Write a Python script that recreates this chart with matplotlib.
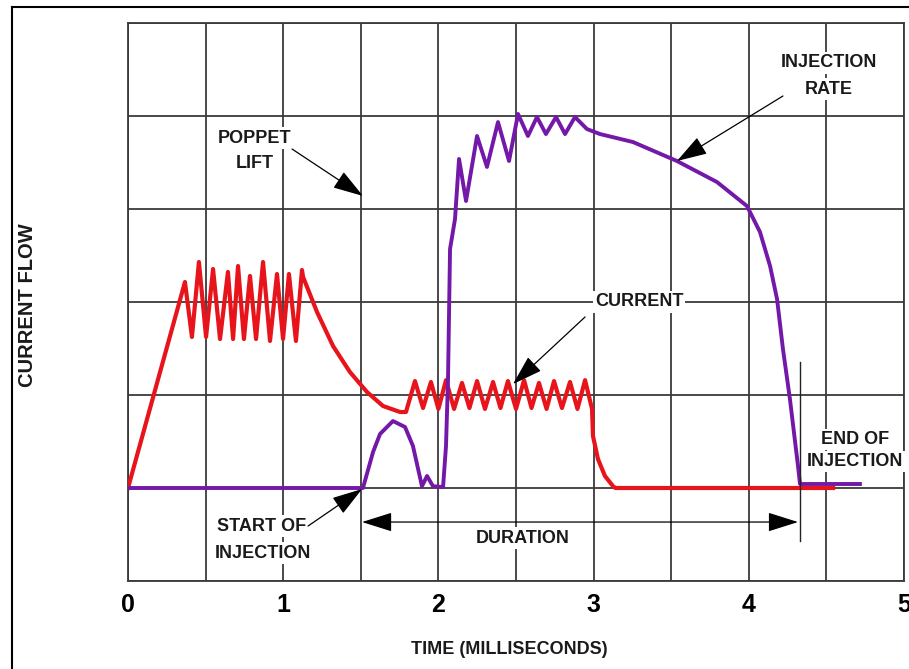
import matplotlib
matplotlib.use("Agg")
import matplotlib.pyplot as plt
from matplotlib.lines import Line2D

# ---------------- data (time in ms, value in grid units) ----------------
current_t = [0.0, 0.367, 0.412, 0.457, 0.503, 0.548, 0.593, 0.644, 0.677, 0.709,
             0.747, 0.786, 0.825, 0.870, 0.915, 0.960, 0.999, 1.037, 1.082, 1.121,
             1.128, 1.218, 1.321, 1.430, 1.540, 1.643, 1.753, 1.791,
             1.849, 1.901, 1.952, 2.000, 2.049, 2.101, 2.152, 2.200, 2.249, 2.300,
             2.352, 2.400, 2.448, 2.500, 2.552, 2.600, 2.648, 2.697, 2.745, 2.796,
             2.848, 2.896, 2.945,
             2.990, 2.996, 3.028, 3.073, 3.125, 3.140, 4.543]
current_v = [0.0, 2.215, 1.624, 2.430, 1.624, 2.355, 1.602, 2.323, 1.602, 2.387,
             1.602, 2.280, 1.602, 2.430, 1.581, 2.301, 1.602, 2.301, 1.581, 2.344,
             2.269, 1.892, 1.527, 1.247, 1.032, 0.882, 0.817, 0.817,
             1.150, 0.860, 1.140, 0.850, 1.160, 0.850, 1.130, 0.860, 1.150, 0.850,
             1.140, 0.860, 1.150, 0.850, 1.160, 0.860, 1.130, 0.850, 1.150, 0.860,
             1.140, 0.850, 1.160,
             0.849, 0.559, 0.312, 0.129, 0.020, 0.0, 0.0]

rate_t = [0.0, 1.514, 1.579, 1.624, 1.707, 1.785, 1.836, 1.894, 1.927, 1.965,
          2.030, 2.049, 2.062, 2.075, 2.107, 2.133, 2.178, 2.249, 2.313, 2.384,
          2.455, 2.513, 2.577, 2.635, 2.693, 2.758, 2.816, 2.880, 2.957, 3.041,
          3.254, 3.537, 3.795, 3.988, 4.072, 4.137, 4.182, 4.220, 4.265, 4.317,
          4.330, 4.716]
rate_v = [0.0, 0.0, 0.387, 0.581, 0.720, 0.656, 0.452, 0.020, 0.129, 0.020,
          0.010, 0.452, 1.172, 2.570, 2.892, 3.538, 3.086, 3.785, 3.452, 3.935,
          3.516, 4.022, 3.785, 3.989, 3.806, 3.989, 3.806, 3.989, 3.860, 3.806,
          3.720, 3.516, 3.290, 3.032, 2.753, 2.387, 2.032, 1.495, 0.957, 0.237,
          0.043, 0.043]

x_ticks = [0, 1, 2, 3, 4, 5]
x_tick_labels = ["0", "1", "2", "3", "4", "5"]
x_label = "TIME (MILLISECONDS)"
y_label = "CURRENT FLOW"

# labels: (text, x, y)
labels = [
    ("POPPET", 0.818, 3.763), ("LIFT", 0.818, 3.484),
    ("INJECTION", 4.517, 4.570), ("RATE", 4.517, 4.290),
    ("CURRENT", 3.293, 2.000),
    ("DURATION", 2.545, -0.538),
    ("START OF", 0.863, -0.409), ("INJECTION", 0.870, -0.699),
    ("END OF", 4.684, 0.520), ("INJECTION", 4.684, 0.285),
]
# pointer arrows: (tail, head)
pointers = [
    ((1.057, 3.645), (1.514, 3.140)),
    ((4.220, 4.215), (3.537, 3.516)),
    ((2.945, 1.839), (2.481, 1.118)),
    ((1.160, -0.409), (1.508, -0.011)),
]
duration_span = (1.508, 4.317, -0.366)
end_marker = (4.330, -0.57, 1.35)

# ---------------- figure ----------------
plt.rcParams['font.family'] = ['Liberation Sans', 'DejaVu Sans']
fig = plt.figure(figsize=(9.09, 6.69), dpi=100)
ax = fig.add_axes([128/909, 1-581/669, (904-128)/909, (581-23)/669])

grid_c = '#3a3a3a'
ax.set_xlim(0, 5)
ax.set_ylim(-1, 5)
ax.set_xticks(x_ticks)
ax.set_xticklabels(x_tick_labels, fontsize=18, fontweight='bold')
ax.set_xticks([0.5, 1.5, 2.5, 3.5, 4.5], minor=True)
ax.set_yticks([-1, 0, 1, 2, 3, 4, 5])
ax.set_yticklabels([])
ax.tick_params(which='both', length=0, pad=9)
ax.grid(True, which='both', color=grid_c, lw=1.3)
ax.set_axisbelow(True)
for s in ax.spines.values():
    s.set_color(grid_c)
    s.set_linewidth(1.3)

ax.plot(current_t, current_v, color='#E8141C', lw=3.0, zorder=4)
ax.plot(rate_t, rate_v, color='#7318A8', lw=2.8, zorder=5)

for txt, x, y in labels:
    ax.text(x, y, txt, ha='center', va='center', fontsize=13, fontweight='bold',
            color='#1a1a1a', zorder=3,
            bbox=dict(facecolor='white', edgecolor='none', pad=1.5))

arrow_style = '-|>,head_length=1.9,head_width=0.6'
for tail, head in pointers:
    ax.annotate('', xy=head, xytext=tail, zorder=6,
                arrowprops=dict(arrowstyle=arrow_style, lw=0.9, color='black',
                                mutation_scale=10, shrinkA=0, shrinkB=0))

x0, x1, yd = duration_span
ax.annotate('', xy=(x1, yd), xytext=(x0, yd), zorder=6,
            arrowprops=dict(arrowstyle='<|-|>,head_length=1.9,head_width=0.6', lw=0.9,
                            color='black', mutation_scale=10, shrinkA=0, shrinkB=0))
ax.plot([end_marker[0]] * 2, [end_marker[1], end_marker[2]], color='#222222', lw=1.0, zorder=6)

fig.text(509/909, 1-650/669, x_label, ha='center', va='center', fontsize=13, fontweight='bold',
         color='#1a1a1a')
fig.text(28/909, 1-305/669, y_label, ha='center', va='center', rotation=90, fontsize=14.5,
         fontweight='bold', color='#1a1a1a')

fig.add_artist(Line2D([12/909, 1], [1-7/669, 1-7/669], transform=fig.transFigure,
                      color='black', lw=1.5))
fig.add_artist(Line2D([12/909, 12/909], [0, 1-7/669], transform=fig.transFigure,
                      color='black', lw=1.5))

fig.savefig('out.png', dpi=100)
